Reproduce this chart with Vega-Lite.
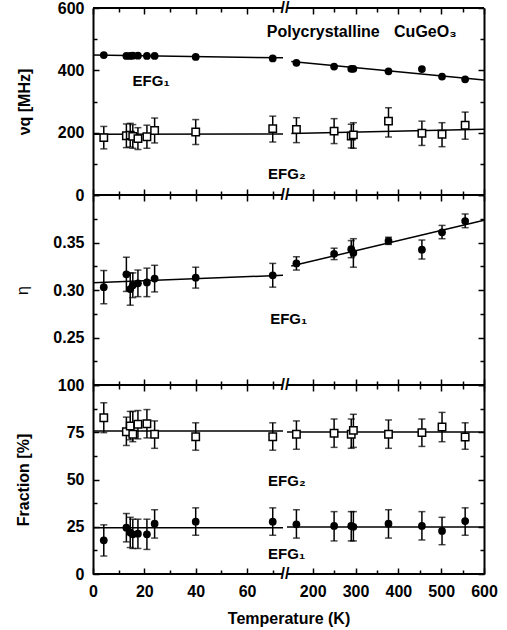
{
  "$schema": "https://vega.github.io/schema/vega-lite/v6.json",
  "padding": {"left": 14, "top": 0, "right": 5, "bottom": 5},
  "spacing": 0,
  "bounds": "flush",
  "config": {
    "view": {"stroke": null},
    "axis": {"grid": false, "domainColor": "black", "domainWidth": 2, "tickColor": "black", "tickWidth": 1.5,
      "labelFont": "Liberation Sans", "labelFontSize": 16, "labelFontWeight": "bold", "labelColor": "black",
      "titleFont": "Liberation Sans", "titleFontSize": 16, "titleFontWeight": "bold", "titleColor": "black",
      "labelFlush": false, "labelOverlap": false},
    "tick": {"thickness": 1.5},
    "text": {"font": "Liberation Sans", "fontSize": 15, "fontWeight": "bold", "color": "black"}
  },
  "datasets": {
    "segs": [{"a": 0, "b": 74}, {"a": 140, "b": 600}],
    "nu1": [
      {"T": 4.2, "v": 449}, {"T": 13, "v": 446}, {"T": 14.5, "v": 446}, {"T": 15.5, "v": 447}, {"T": 17.5, "v": 447},
      {"T": 21, "v": 446}, {"T": 24, "v": 446}, {"T": 40, "v": 443}, {"T": 70, "v": 438}, {"T": 162, "v": 424},
      {"T": 250, "v": 412}, {"T": 290, "v": 405}, {"T": 295, "v": 405}, {"T": 377, "v": 397}, {"T": 455, "v": 404},
      {"T": 502, "v": 380}, {"T": 556, "v": 371}
    ],
    "nu2": [
      {"T": 4.2, "v": 184, "lo": 148, "hi": 220}, {"T": 13, "v": 190, "lo": 152, "hi": 228},
      {"T": 14.5, "v": 192, "lo": 154, "hi": 230}, {"T": 15.5, "v": 188, "lo": 150, "hi": 226},
      {"T": 17.5, "v": 181, "lo": 146, "hi": 216}, {"T": 21, "v": 187, "lo": 150, "hi": 224},
      {"T": 24, "v": 207, "lo": 167, "hi": 247}, {"T": 40, "v": 202, "lo": 162, "hi": 242},
      {"T": 70, "v": 213, "lo": 170, "hi": 253}, {"T": 162, "v": 210, "lo": 168, "hi": 248},
      {"T": 250, "v": 205, "lo": 165, "hi": 245}, {"T": 290, "v": 189, "lo": 151, "hi": 227},
      {"T": 295, "v": 193, "lo": 150, "hi": 232}, {"T": 377, "v": 237, "lo": 186, "hi": 280},
      {"T": 455, "v": 198, "lo": 159, "hi": 237}, {"T": 502, "v": 195, "lo": 155, "hi": 232},
      {"T": 556, "v": 224, "lo": 179, "hi": 266}
    ],
    "fitnu": [
      {"seg": "a", "T": 0, "v": 449}, {"seg": "a", "T": 74, "v": 440},
      {"seg": "b", "T": 150, "v": 428}, {"seg": "b", "T": 600, "v": 369},
      {"seg": "c", "T": 0, "v": 195}, {"seg": "c", "T": 74, "v": 196},
      {"seg": "d", "T": 150, "v": 197}, {"seg": "d", "T": 600, "v": 211}
    ],
    "eta": [
      {"T": 4.2, "v": 0.303, "lo": 0.2855, "hi": 0.3205}, {"T": 13, "v": 0.3165, "lo": 0.2985, "hi": 0.3345},
      {"T": 14.5, "v": 0.301, "lo": 0.284, "hi": 0.318}, {"T": 15.5, "v": 0.305, "lo": 0.292, "hi": 0.318},
      {"T": 17.5, "v": 0.307, "lo": 0.293, "hi": 0.321}, {"T": 21, "v": 0.308, "lo": 0.293, "hi": 0.323},
      {"T": 24, "v": 0.312, "lo": 0.298, "hi": 0.326}, {"T": 40, "v": 0.313, "lo": 0.302, "hi": 0.324},
      {"T": 70, "v": 0.3155, "lo": 0.303, "hi": 0.328}, {"T": 162, "v": 0.328, "lo": 0.321, "hi": 0.335},
      {"T": 250, "v": 0.338, "lo": 0.332, "hi": 0.344}, {"T": 290, "v": 0.343, "lo": 0.334, "hi": 0.352},
      {"T": 295, "v": 0.339, "lo": 0.324, "hi": 0.354}, {"T": 377, "v": 0.3516, "lo": 0.348, "hi": 0.3555},
      {"T": 455, "v": 0.3424, "lo": 0.3326, "hi": 0.3526}, {"T": 502, "v": 0.3607, "lo": 0.354, "hi": 0.368},
      {"T": 556, "v": 0.3726, "lo": 0.3656, "hi": 0.38}
    ],
    "fiteta": [
      {"seg": "a", "T": 0, "v": 0.3077}, {"seg": "a", "T": 74, "v": 0.3155},
      {"seg": "b", "T": 150, "v": 0.3252}, {"seg": "b", "T": 600, "v": 0.3735}
    ],
    "fr2": [
      {"T": 4.2, "v": 82.7, "lo": 74.8, "hi": 90.6}, {"T": 13, "v": 75.3, "lo": 68, "hi": 83},
      {"T": 14.5, "v": 78.3, "lo": 71, "hi": 86}, {"T": 15.5, "v": 73.9, "lo": 70, "hi": 86},
      {"T": 17.5, "v": 79.2, "lo": 71.5, "hi": 86.5}, {"T": 21, "v": 79.5, "lo": 72, "hi": 87},
      {"T": 24, "v": 73.9, "lo": 66.5, "hi": 81}, {"T": 40, "v": 72.6, "lo": 65.5, "hi": 80},
      {"T": 70, "v": 72.6, "lo": 65.5, "hi": 80}, {"T": 162, "v": 73.9, "lo": 66, "hi": 81},
      {"T": 250, "v": 74.5, "lo": 67, "hi": 82}, {"T": 290, "v": 73.9, "lo": 66.5, "hi": 82},
      {"T": 295, "v": 76, "lo": 67, "hi": 84.5}, {"T": 377, "v": 73.9, "lo": 66.5, "hi": 81.5},
      {"T": 455, "v": 74.8, "lo": 67.5, "hi": 82}, {"T": 502, "v": 77.8, "lo": 70, "hi": 85.5},
      {"T": 556, "v": 72.5, "lo": 66, "hi": 80}
    ],
    "fr1": [
      {"T": 4.2, "v": 17.8, "lo": 9.5, "hi": 26}, {"T": 13, "v": 24.5, "lo": 17, "hi": 32},
      {"T": 14.5, "v": 21.9, "lo": 14, "hi": 30}, {"T": 15.5, "v": 21, "lo": 13.5, "hi": 29},
      {"T": 17.5, "v": 21.3, "lo": 13.5, "hi": 29}, {"T": 21, "v": 21, "lo": 13, "hi": 29},
      {"T": 24, "v": 26.6, "lo": 19, "hi": 34}, {"T": 40, "v": 27.7, "lo": 20.5, "hi": 35},
      {"T": 70, "v": 27.7, "lo": 20.5, "hi": 35}, {"T": 162, "v": 26.3, "lo": 19, "hi": 34},
      {"T": 250, "v": 25.4, "lo": 17.5, "hi": 33}, {"T": 290, "v": 25.4, "lo": 17.5, "hi": 33},
      {"T": 295, "v": 25, "lo": 17.5, "hi": 33}, {"T": 377, "v": 26.6, "lo": 19, "hi": 34},
      {"T": 455, "v": 25.4, "lo": 18, "hi": 33}, {"T": 502, "v": 22.8, "lo": 15.5, "hi": 30},
      {"T": 556, "v": 28, "lo": 20.5, "hi": 35}
    ],
    "fitfr": [
      {"seg": "a", "T": 0, "v": 75.7}, {"seg": "a", "T": 74, "v": 75.7},
      {"seg": "b", "T": 140, "v": 75.1}, {"seg": "b", "T": 600, "v": 75.1},
      {"seg": "c", "T": 0, "v": 24.5}, {"seg": "c", "T": 74, "v": 24.5},
      {"seg": "d", "T": 140, "v": 24.9}, {"seg": "d", "T": 600, "v": 24.9}
    ]
  },
  "vconcat": [
    {
      "width": 391, "height": 187,
      "resolve": {"axis": {"x": "independent", "y": "independent"}},
      "layer": [
        {"data": {"name": "segs"}, "mark": {"type": "rule", "strokeWidth": 2, "color": "black"},
         "encoding": {"x": {"field": "a", "type": "quantitative", "scale": {"domain": [0, 74, 140, 600], "range": [0, 190, 194, 391], "nice": false, "zero": false}, "axis": null},
           "x2": {"field": "b"}, "y": {"datum": 600, "type": "quantitative", "scale": {"domain": [0, 600], "nice": false, "zero": false}, "axis": null}}},
        {"data": {"name": "segs"}, "mark": {"type": "rule", "strokeWidth": 2, "color": "black"},
         "encoding": {"x": {"field": "a", "type": "quantitative", "scale": {"domain": [0, 74, 140, 600], "range": [0, 190, 194, 391], "nice": false, "zero": false}, "axis": null},
           "x2": {"field": "b"}, "y": {"datum": 0, "type": "quantitative", "scale": {"domain": [0, 600], "nice": false, "zero": false}, "axis": null}}},
        {"data": {"values": [{}]}, "mark": {"type": "text", "text": "//", "fontSize": 16},
         "encoding": {"x": {"datum": 107, "type": "quantitative", "scale": {"domain": [0, 74, 140, 600], "range": [0, 190, 194, 391], "nice": false, "zero": false}, "axis": null},
           "y": {"datum": 600, "type": "quantitative", "scale": {"domain": [0, 600], "nice": false, "zero": false}, "axis": null}}},
        {"data": {"values": [{}]}, "mark": {"type": "text", "text": "//", "fontSize": 16},
         "encoding": {"x": {"datum": 107, "type": "quantitative", "scale": {"domain": [0, 74, 140, 600], "range": [0, 190, 194, 391], "nice": false, "zero": false}, "axis": null},
           "y": {"datum": 0, "type": "quantitative", "scale": {"domain": [0, 600], "nice": false, "zero": false}, "axis": null}}},
        {"data": {"name": "fitnu"}, "mark": {"type": "line", "color": "black", "strokeWidth": 1.5},
         "encoding": {
           "x": {"field": "T", "type": "quantitative", "scale": {"domain": [0, 74, 140, 600], "range": [0, 190, 194, 391], "nice": false, "zero": false},
             "axis": {"orient": "bottom", "values": [0, 10, 20, 30, 40, 50, 60, 70, 200, 250, 300, 350, 400, 450, 500, 550, 600], "labels": false, "title": null, "domain": false,
               "tickSize": {"condition": {"test": "indexof([0,20,40,60,200,300,400,500,600], datum.value) >= 0", "value": -6}, "value": -4}}},
           "y": {"field": "v", "type": "quantitative", "scale": {"domain": [0, 600], "nice": false, "zero": false},
             "axis": {"orient": "left", "values": [0, 100, 200, 300, 400, 500, 600], "labelExpr": "datum.value % 200 === 0 ? datum.label : ''",
               "tickSize": {"condition": {"test": "datum.value % 200 === 0", "value": -6}, "value": -4}, "labelPadding": 15,
               "title": "νq [MHz]", "titlePadding": 25}},
           "detail": {"field": "seg"}}},
        {"data": {"name": "nu2"}, "mark": {"type": "rule", "color": "black", "strokeWidth": 1.5},
         "encoding": {"x": {"field": "T", "type": "quantitative", "scale": {"domain": [0, 74, 140, 600], "range": [0, 190, 194, 391], "nice": false, "zero": false}, "axis": null},
           "y": {"field": "lo", "type": "quantitative", "scale": {"domain": [0, 600], "nice": false, "zero": false}, "axis": null}, "y2": {"field": "hi"}}},
        {"data": {"name": "nu2"}, "mark": {"type": "tick", "orient": "horizontal", "color": "black", "size": 7, "thickness": 1.5},
         "encoding": {"x": {"field": "T", "type": "quantitative", "scale": {"domain": [0, 74, 140, 600], "range": [0, 190, 194, 391], "nice": false, "zero": false}, "axis": null},
           "y": {"field": "lo", "type": "quantitative", "scale": {"domain": [0, 600], "nice": false, "zero": false}, "axis": null}}},
        {"data": {"name": "nu2"}, "mark": {"type": "tick", "orient": "horizontal", "color": "black", "size": 7, "thickness": 1.5},
         "encoding": {"x": {"field": "T", "type": "quantitative", "scale": {"domain": [0, 74, 140, 600], "range": [0, 190, 194, 391], "nice": false, "zero": false}, "axis": null},
           "y": {"field": "hi", "type": "quantitative", "scale": {"domain": [0, 600], "nice": false, "zero": false}, "axis": null}}},
        {"data": {"name": "nu2"}, "mark": {"type": "point", "shape": "square", "filled": true, "fill": "white", "stroke": "black", "strokeWidth": 1.5, "size": 55, "opacity": 1},
         "encoding": {"x": {"field": "T", "type": "quantitative", "scale": {"domain": [0, 74, 140, 600], "range": [0, 190, 194, 391], "nice": false, "zero": false}, "axis": null},
           "y": {"field": "v", "type": "quantitative", "scale": {"domain": [0, 600], "nice": false, "zero": false}, "axis": null}}},
        {"data": {"name": "nu1"}, "mark": {"type": "circle", "color": "black", "size": 60, "opacity": 1},
         "encoding": {
           "x": {"field": "T", "type": "quantitative", "scale": {"domain": [0, 74, 140, 600], "range": [0, 190, 194, 391], "nice": false, "zero": false},
             "axis": {"orient": "top", "values": [0, 10, 20, 30, 40, 50, 60, 70, 200, 250, 300, 350, 400, 450, 500, 550, 600], "labels": false, "title": null, "domain": false,
               "tickSize": {"condition": {"test": "indexof([0,20,40,60,200,300,400,500,600], datum.value) >= 0", "value": -6}, "value": -4}}},
           "y": {"field": "v", "type": "quantitative", "scale": {"domain": [0, 600], "nice": false, "zero": false},
             "axis": {"orient": "right", "values": [0, 100, 200, 300, 400, 500, 600], "labels": false, "title": null,
               "tickSize": {"condition": {"test": "datum.value % 200 === 0", "value": -6}, "value": -4}}}}},
        {"data": {"values": [{}]}, "mark": {"type": "text", "text": "Polycrystalline", "align": "left", "baseline": "middle", "fontSize": 16},
         "encoding": {"x": {"datum": 67.7, "type": "quantitative", "scale": {"domain": [0, 74, 140, 600], "range": [0, 190, 194, 391], "nice": false, "zero": false}, "axis": null},
           "y": {"datum": 524, "type": "quantitative", "scale": {"domain": [0, 600], "nice": false, "zero": false}, "axis": null}}},
        {"data": {"values": [{}]}, "mark": {"type": "text", "text": "CuGeO₃", "align": "left", "baseline": "middle", "fontSize": 16},
         "encoding": {"x": {"datum": 390, "type": "quantitative", "scale": {"domain": [0, 74, 140, 600], "range": [0, 190, 194, 391], "nice": false, "zero": false}, "axis": null},
           "y": {"datum": 524, "type": "quantitative", "scale": {"domain": [0, 600], "nice": false, "zero": false}, "axis": null}}},
        {"data": {"values": [{}]}, "mark": {"type": "text", "text": "EFG₁", "align": "left", "baseline": "middle"},
         "encoding": {"x": {"datum": 15.4, "type": "quantitative", "scale": {"domain": [0, 74, 140, 600], "range": [0, 190, 194, 391], "nice": false, "zero": false}, "axis": null},
           "y": {"datum": 366, "type": "quantitative", "scale": {"domain": [0, 600], "nice": false, "zero": false}, "axis": null}}},
        {"data": {"values": [{}]}, "mark": {"type": "text", "text": "EFG₂", "align": "left", "baseline": "middle"},
         "encoding": {"x": {"datum": 68.2, "type": "quantitative", "scale": {"domain": [0, 74, 140, 600], "range": [0, 190, 194, 391], "nice": false, "zero": false}, "axis": null},
           "y": {"datum": 67, "type": "quantitative", "scale": {"domain": [0, 600], "nice": false, "zero": false}, "axis": null}}}
      ]
    },
    {
      "width": 391, "height": 190,
      "resolve": {"axis": {"x": "independent", "y": "independent"}},
      "layer": [
        {"data": {"name": "segs"}, "mark": {"type": "rule", "strokeWidth": 2, "color": "black"},
         "encoding": {"x": {"field": "a", "type": "quantitative", "scale": {"domain": [0, 74, 140, 600], "range": [0, 190, 194, 391], "nice": false, "zero": false}, "axis": null},
           "x2": {"field": "b"}, "y": {"datum": 0.4, "type": "quantitative", "scale": {"domain": [0.2, 0.4], "nice": false, "zero": false}, "axis": null}}},
        {"data": {"name": "segs"}, "mark": {"type": "rule", "strokeWidth": 2, "color": "black"},
         "encoding": {"x": {"field": "a", "type": "quantitative", "scale": {"domain": [0, 74, 140, 600], "range": [0, 190, 194, 391], "nice": false, "zero": false}, "axis": null},
           "x2": {"field": "b"}, "y": {"datum": 0.2, "type": "quantitative", "scale": {"domain": [0.2, 0.4], "nice": false, "zero": false}, "axis": null}}},
        {"data": {"values": [{}]}, "mark": {"type": "text", "text": "//", "fontSize": 16},
         "encoding": {"x": {"datum": 107, "type": "quantitative", "scale": {"domain": [0, 74, 140, 600], "range": [0, 190, 194, 391], "nice": false, "zero": false}, "axis": null},
           "y": {"datum": 0.2, "type": "quantitative", "scale": {"domain": [0.2, 0.4], "nice": false, "zero": false}, "axis": null}}},
        {"data": {"name": "fiteta"}, "mark": {"type": "line", "color": "black", "strokeWidth": 1.5},
         "encoding": {
           "x": {"field": "T", "type": "quantitative", "scale": {"domain": [0, 74, 140, 600], "range": [0, 190, 194, 391], "nice": false, "zero": false},
             "axis": {"orient": "bottom", "values": [0, 10, 20, 30, 40, 50, 60, 70, 200, 250, 300, 350, 400, 450, 500, 550, 600], "labels": false, "title": null, "domain": false,
               "tickSize": {"condition": {"test": "indexof([0,20,40,60,200,300,400,500,600], datum.value) >= 0", "value": -6}, "value": -4}}},
           "y": {"field": "v", "type": "quantitative", "scale": {"domain": [0.2, 0.4], "nice": false, "zero": false},
             "axis": {"orient": "left", "values": [0.2, 0.225, 0.25, 0.275, 0.3, 0.325, 0.35, 0.375, 0.4], "format": ".2f",
               "labelExpr": "indexof(['0.25','0.30','0.35'], datum.label) >= 0 ? datum.label : ''",
               "tickSize": {"condition": {"test": "round(datum.value*1000) % 50 === 0", "value": -6}, "value": -4}, "labelPadding": 15,
               "title": "η", "titlePadding": 22, "titleFontWeight": "normal"}},
           "detail": {"field": "seg"}}},
        {"data": {"name": "eta"}, "mark": {"type": "rule", "color": "black", "strokeWidth": 1.5},
         "encoding": {"x": {"field": "T", "type": "quantitative", "scale": {"domain": [0, 74, 140, 600], "range": [0, 190, 194, 391], "nice": false, "zero": false}, "axis": null},
           "y": {"field": "lo", "type": "quantitative", "scale": {"domain": [0.2, 0.4], "nice": false, "zero": false}, "axis": null}, "y2": {"field": "hi"}}},
        {"data": {"name": "eta"}, "mark": {"type": "tick", "orient": "horizontal", "color": "black", "size": 7, "thickness": 1.5},
         "encoding": {"x": {"field": "T", "type": "quantitative", "scale": {"domain": [0, 74, 140, 600], "range": [0, 190, 194, 391], "nice": false, "zero": false}, "axis": null},
           "y": {"field": "lo", "type": "quantitative", "scale": {"domain": [0.2, 0.4], "nice": false, "zero": false}, "axis": null}}},
        {"data": {"name": "eta"}, "mark": {"type": "tick", "orient": "horizontal", "color": "black", "size": 7, "thickness": 1.5},
         "encoding": {"x": {"field": "T", "type": "quantitative", "scale": {"domain": [0, 74, 140, 600], "range": [0, 190, 194, 391], "nice": false, "zero": false}, "axis": null},
           "y": {"field": "hi", "type": "quantitative", "scale": {"domain": [0.2, 0.4], "nice": false, "zero": false}, "axis": null}}},
        {"data": {"name": "eta"}, "mark": {"type": "circle", "color": "black", "size": 60, "opacity": 1},
         "encoding": {
           "x": {"field": "T", "type": "quantitative", "scale": {"domain": [0, 74, 140, 600], "range": [0, 190, 194, 391], "nice": false, "zero": false},
             "axis": {"orient": "top", "values": [0, 10, 20, 30, 40, 50, 60, 70, 200, 250, 300, 350, 400, 450, 500, 550, 600], "labels": false, "title": null, "domain": false,
               "tickSize": {"condition": {"test": "indexof([0,20,40,60,200,300,400,500,600], datum.value) >= 0", "value": -6}, "value": -4}}},
           "y": {"field": "v", "type": "quantitative", "scale": {"domain": [0.2, 0.4], "nice": false, "zero": false},
             "axis": {"orient": "right", "values": [0.2, 0.225, 0.25, 0.275, 0.3, 0.325, 0.35, 0.375, 0.4], "labels": false, "title": null,
               "tickSize": {"condition": {"test": "round(datum.value*1000) % 50 === 0", "value": -6}, "value": -4}}}}},
        {"data": {"values": [{}]}, "mark": {"type": "text", "text": "EFG₁", "align": "left", "baseline": "middle"},
         "encoding": {"x": {"datum": 69, "type": "quantitative", "scale": {"domain": [0, 74, 140, 600], "range": [0, 190, 194, 391], "nice": false, "zero": false}, "axis": null},
           "y": {"datum": 0.2698, "type": "quantitative", "scale": {"domain": [0.2, 0.4], "nice": false, "zero": false}, "axis": null}}}
      ]
    },
    {
      "width": 391, "height": 189,
      "resolve": {"axis": {"x": "independent", "y": "independent"}},
      "layer": [
        {"data": {"name": "segs"}, "mark": {"type": "rule", "strokeWidth": 2, "color": "black"},
         "encoding": {"x": {"field": "a", "type": "quantitative", "scale": {"domain": [0, 74, 140, 600], "range": [0, 190, 194, 391], "nice": false, "zero": false}, "axis": null},
           "x2": {"field": "b"}, "y": {"datum": 100, "type": "quantitative", "scale": {"domain": [0, 100], "nice": false, "zero": false}, "axis": null}}},
        {"data": {"name": "segs"}, "mark": {"type": "rule", "strokeWidth": 2, "color": "black"},
         "encoding": {"x": {"field": "a", "type": "quantitative", "scale": {"domain": [0, 74, 140, 600], "range": [0, 190, 194, 391], "nice": false, "zero": false}, "axis": null},
           "x2": {"field": "b"}, "y": {"datum": 0, "type": "quantitative", "scale": {"domain": [0, 100], "nice": false, "zero": false}, "axis": null}}},
        {"data": {"values": [{}]}, "mark": {"type": "text", "text": "//", "fontSize": 16},
         "encoding": {"x": {"datum": 107, "type": "quantitative", "scale": {"domain": [0, 74, 140, 600], "range": [0, 190, 194, 391], "nice": false, "zero": false}, "axis": null},
           "y": {"datum": 0, "type": "quantitative", "scale": {"domain": [0, 100], "nice": false, "zero": false}, "axis": null}}},
        {"data": {"name": "fitfr"}, "mark": {"type": "line", "color": "black", "strokeWidth": 1.5},
         "encoding": {
           "x": {"field": "T", "type": "quantitative", "scale": {"domain": [0, 74, 140, 600], "range": [0, 190, 194, 391], "nice": false, "zero": false},
             "axis": {"orient": "bottom", "values": [0, 10, 20, 30, 40, 50, 60, 70, 200, 250, 300, 350, 400, 450, 500, 550, 600], "domain": false,
               "labelExpr": "indexof([0,20,40,60,200,300,400,500,600], datum.value) >= 0 ? datum.label : ''", "labelPadding": 15,
               "title": "Temperature (K)", "titlePadding": 9,
               "tickSize": {"condition": {"test": "indexof([0,20,40,60,200,300,400,500,600], datum.value) >= 0", "value": -6}, "value": -4}}},
           "y": {"field": "v", "type": "quantitative", "scale": {"domain": [0, 100], "nice": false, "zero": false},
             "axis": {"orient": "left", "values": [0, 12.5, 25, 37.5, 50, 62.5, 75, 87.5, 100], "labelExpr": "datum.value % 25 === 0 ? datum.label : ''",
               "tickSize": {"condition": {"test": "datum.value % 25 === 0", "value": -6}, "value": -4}, "labelPadding": 15,
               "title": "Fraction  [%]", "titlePadding": 26}},
           "detail": {"field": "seg"}}},
        {"data": {"name": "fr2"}, "mark": {"type": "rule", "color": "black", "strokeWidth": 1.5},
         "encoding": {"x": {"field": "T", "type": "quantitative", "scale": {"domain": [0, 74, 140, 600], "range": [0, 190, 194, 391], "nice": false, "zero": false}, "axis": null},
           "y": {"field": "lo", "type": "quantitative", "scale": {"domain": [0, 100], "nice": false, "zero": false}, "axis": null}, "y2": {"field": "hi"}}},
        {"data": {"name": "fr2"}, "mark": {"type": "tick", "orient": "horizontal", "color": "black", "size": 7, "thickness": 1.5},
         "encoding": {"x": {"field": "T", "type": "quantitative", "scale": {"domain": [0, 74, 140, 600], "range": [0, 190, 194, 391], "nice": false, "zero": false}, "axis": null},
           "y": {"field": "lo", "type": "quantitative", "scale": {"domain": [0, 100], "nice": false, "zero": false}, "axis": null}}},
        {"data": {"name": "fr2"}, "mark": {"type": "tick", "orient": "horizontal", "color": "black", "size": 7, "thickness": 1.5},
         "encoding": {"x": {"field": "T", "type": "quantitative", "scale": {"domain": [0, 74, 140, 600], "range": [0, 190, 194, 391], "nice": false, "zero": false}, "axis": null},
           "y": {"field": "hi", "type": "quantitative", "scale": {"domain": [0, 100], "nice": false, "zero": false}, "axis": null}}},
        {"data": {"name": "fr1"}, "mark": {"type": "rule", "color": "black", "strokeWidth": 1.5},
         "encoding": {"x": {"field": "T", "type": "quantitative", "scale": {"domain": [0, 74, 140, 600], "range": [0, 190, 194, 391], "nice": false, "zero": false}, "axis": null},
           "y": {"field": "lo", "type": "quantitative", "scale": {"domain": [0, 100], "nice": false, "zero": false}, "axis": null}, "y2": {"field": "hi"}}},
        {"data": {"name": "fr1"}, "mark": {"type": "tick", "orient": "horizontal", "color": "black", "size": 7, "thickness": 1.5},
         "encoding": {"x": {"field": "T", "type": "quantitative", "scale": {"domain": [0, 74, 140, 600], "range": [0, 190, 194, 391], "nice": false, "zero": false}, "axis": null},
           "y": {"field": "lo", "type": "quantitative", "scale": {"domain": [0, 100], "nice": false, "zero": false}, "axis": null}}},
        {"data": {"name": "fr1"}, "mark": {"type": "tick", "orient": "horizontal", "color": "black", "size": 7, "thickness": 1.5},
         "encoding": {"x": {"field": "T", "type": "quantitative", "scale": {"domain": [0, 74, 140, 600], "range": [0, 190, 194, 391], "nice": false, "zero": false}, "axis": null},
           "y": {"field": "hi", "type": "quantitative", "scale": {"domain": [0, 100], "nice": false, "zero": false}, "axis": null}}},
        {"data": {"name": "fr2"}, "mark": {"type": "point", "shape": "square", "filled": true, "fill": "white", "stroke": "black", "strokeWidth": 1.5, "size": 55, "opacity": 1},
         "encoding": {"x": {"field": "T", "type": "quantitative", "scale": {"domain": [0, 74, 140, 600], "range": [0, 190, 194, 391], "nice": false, "zero": false}, "axis": null},
           "y": {"field": "v", "type": "quantitative", "scale": {"domain": [0, 100], "nice": false, "zero": false}, "axis": null}}},
        {"data": {"name": "fr1"}, "mark": {"type": "circle", "color": "black", "size": 60, "opacity": 1},
         "encoding": {
           "x": {"field": "T", "type": "quantitative", "scale": {"domain": [0, 74, 140, 600], "range": [0, 190, 194, 391], "nice": false, "zero": false},
             "axis": {"orient": "top", "values": [0, 10, 20, 30, 40, 50, 60, 70, 200, 250, 300, 350, 400, 450, 500, 550, 600], "labels": false, "title": null, "domain": false,
               "tickSize": {"condition": {"test": "indexof([0,20,40,60,200,300,400,500,600], datum.value) >= 0", "value": -6}, "value": -4}}},
           "y": {"field": "v", "type": "quantitative", "scale": {"domain": [0, 100], "nice": false, "zero": false},
             "axis": {"orient": "right", "values": [0, 12.5, 25, 37.5, 50, 62.5, 75, 87.5, 100], "labels": false, "title": null,
               "tickSize": {"condition": {"test": "datum.value % 25 === 0", "value": -6}, "value": -4}}}}},
        {"data": {"values": [{}]}, "mark": {"type": "text", "text": "EFG₂", "align": "left", "baseline": "middle"},
         "encoding": {"x": {"datum": 68.2, "type": "quantitative", "scale": {"domain": [0, 74, 140, 600], "range": [0, 190, 194, 391], "nice": false, "zero": false}, "axis": null},
           "y": {"datum": 49.2, "type": "quantitative", "scale": {"domain": [0, 100], "nice": false, "zero": false}, "axis": null}}},
        {"data": {"values": [{}]}, "mark": {"type": "text", "text": "EFG₁", "align": "left", "baseline": "middle"},
         "encoding": {"x": {"datum": 68.2, "type": "quantitative", "scale": {"domain": [0, 74, 140, 600], "range": [0, 190, 194, 391], "nice": false, "zero": false}, "axis": null},
           "y": {"datum": 10.4, "type": "quantitative", "scale": {"domain": [0, 100], "nice": false, "zero": false}, "axis": null}}}
      ]
    }
  ]
}
